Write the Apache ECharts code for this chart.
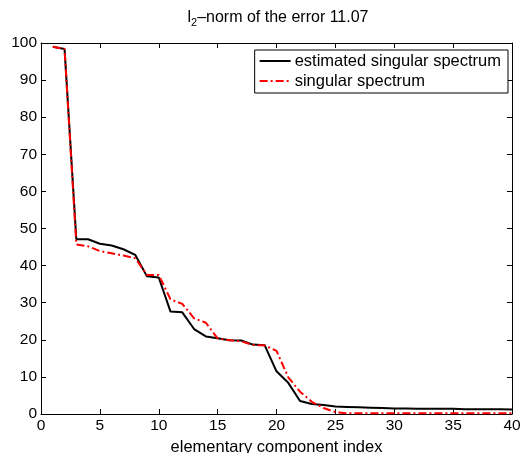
<!DOCTYPE html>
<html>
<head>
<meta charset="utf-8">
<script src="https://cdn.jsdelivr.net/npm/echarts@6/dist/echarts.min.js"></script>
<style>html,body{margin:0;padding:0;background:#fff}#c{width:525px;height:453px}</style>
</head>
<body>
<div id="c"></div>
<script>
var componentIndex = [1,2,3,4,5,6,7,8,9,10,11,12,13,14,15,16,17,18,19,20,21,22,23,24,25,26,27,28,29,30,31,32,33,34,35,36,37,38,39,40];
var estimatedSpectrum = [99, 98.4, 47.1, 47.1, 45.9, 45.4, 44.4, 42.9, 37.1, 36.8, 27.6, 27.4, 22.9, 20.9, 20.4, 19.9, 19.8, 18.7, 18.5, 11.5, 8.4, 3.5, 2.7, 2.4, 2.0, 1.9, 1.8, 1.7, 1.6, 1.5, 1.5, 1.4, 1.4, 1.4, 1.4, 1.3, 1.3, 1.3, 1.3, 1.2];
var trueSpectrum = [99, 98.4, 45.7, 45.2, 43.9, 43.3, 42.7, 42.0, 37.5, 37.5, 30.9, 29.7, 25.8, 24.6, 20.4, 19.9, 19.6, 18.6, 18.5, 17.0, 9.9, 6.0, 3.3, 1.6, 0.5, 0.2, 0.2, 0.2, 0.2, 0.2, 0.2, 0.2, 0.2, 0.2, 0.2, 0.2, 0.2, 0.2, 0.2, 0.2];
var seriesNames = ['estimated singular spectrum', 'singular spectrum'];
var titleMain = '\u2013norm of the error 11.07';
var xAxisName = 'elementary component index';

function pairs(xs, ys){ return xs.map(function(x,i){ return [x, ys[i]]; }); }

var font = 'Liberation Sans, Arial, Helvetica, sans-serif';
var chart = echarts.init(document.getElementById('c'), null, {renderer:'canvas'});
function ticks(){ return {show:true, inside:true, length:5, lineStyle:{color:'#000', width:1}}; }
function axLine(){ return {show:true, onZero:false, lineStyle:{color:'#000', width:1}}; }
chart.setOption({
  animation:false,
  backgroundColor:'#fff',
  title:{
    text:'{l|l}{sub|2}{m|' + titleMain + '}',
    left:273, textAlign:'center', top:3,
    textStyle:{
      fontWeight:'normal',
      rich:{
        l:{fontFamily:font, fontSize:16, fontWeight:'normal', color:'#000'},
        sub:{fontFamily:font, fontSize:11, fontWeight:'normal', color:'#000', verticalAlign:'bottom', padding:[9,0,0,0]},
        m:{fontFamily:font, fontSize:16, fontWeight:'normal', color:'#000'}
      }
    }
  },
  legend:{
    right:17, top:50, orient:'vertical',
    backgroundColor:'#fff', borderColor:'#000', borderWidth:1, borderRadius:0,
    padding:[2,7,3,4], itemGap:2, itemWidth:31, itemHeight:18,
    itemStyle:{opacity:0},
    textStyle:{fontFamily:font, fontSize:16.5, lineHeight:18, color:'#000', padding:[0,0,0,-1]},
    data:seriesNames
  },
  grid:{left:41, right:13, top:43, bottom:39, containLabel:false, outerBoundsMode:'none'},
  xAxis:[{
    type:'value', min:0, max:40, interval:5, position:'bottom',
    name:xAxisName, nameLocation:'middle', nameGap:21,
    nameTextStyle:{fontFamily:font, fontSize:16.5, color:'#000'},
    axisLine:axLine(), axisTick:ticks(), splitLine:{show:false},
    axisLabel:{fontFamily:font, fontSize:15.5, color:'#000', margin:4}
  },{
    type:'value', min:0, max:40, interval:5, position:'top',
    axisLine:axLine(), axisTick:ticks(), splitLine:{show:false}, axisLabel:{show:false}
  }],
  yAxis:[{
    type:'value', min:0, max:100, interval:10, position:'left',
    axisLine:axLine(), axisTick:ticks(), splitLine:{show:false},
    axisLabel:{fontFamily:font, fontSize:15.5, color:'#000', margin:4}
  },{
    type:'value', min:0, max:100, interval:10, position:'right',
    axisLine:axLine(), axisTick:ticks(), splitLine:{show:false}, axisLabel:{show:false}
  }],
  series:[{
    name:seriesNames[0], type:'line', symbol:'none',
    data:pairs(componentIndex, estimatedSpectrum),
    lineStyle:{color:'#000', width:2}, itemStyle:{color:'#000'}, z:2
  },{
    name:seriesNames[1], type:'line', symbol:'none',
    data:pairs(componentIndex, trueSpectrum),
    lineStyle:{color:'#ff0000', width:2, type:[8,3,2,3]}, itemStyle:{color:'#ff0000'}, z:3
  }]
});
</script>
</body>
</html>
